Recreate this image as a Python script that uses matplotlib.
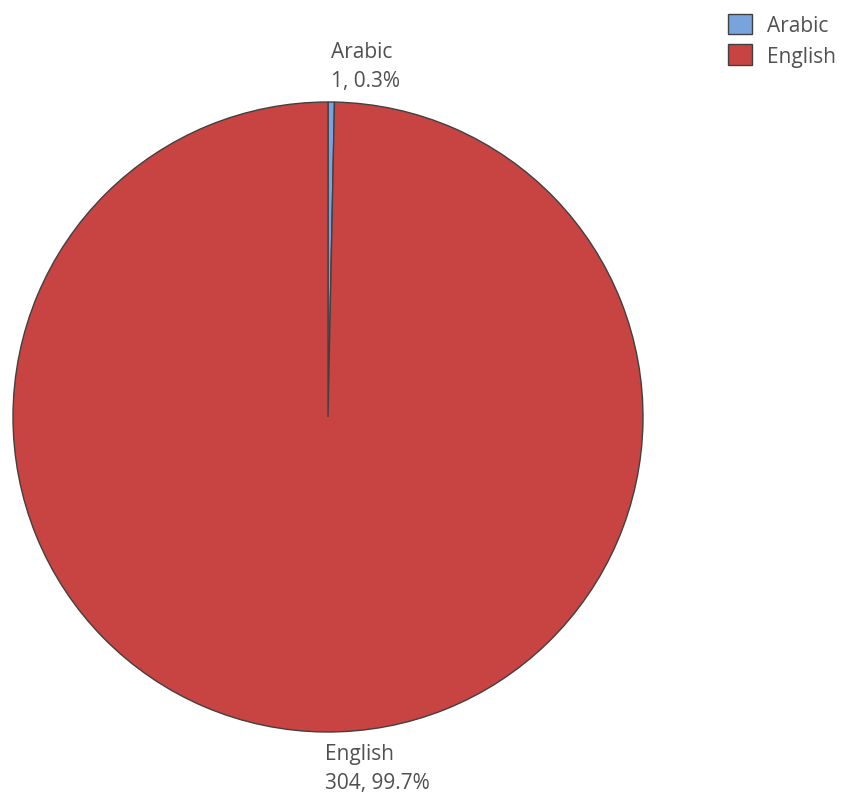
import numpy as np
import matplotlib.pyplot as plt
from matplotlib.patches import Patch

# data
languages = ['Arabic', 'English']
counts = [1, 304]
colors = ['#78A3DC', '#C84442']

plt.rcParams['font.family'] = ['Open Sans', 'DejaVu Sans']
text_color = '#505050'

fig = plt.figure(figsize=(8.51, 8.03), dpi=100)
ax = fig.add_axes([13 / 851, 70 / 803, 630 / 851, 630 / 803])

wedges, _ = ax.pie(counts, colors=colors, startangle=90, counterclock=False,
                   radius=1, wedgeprops=dict(edgecolor='#404040', linewidth=1.0))
ax.set_xlim(-1, 1)
ax.set_ylim(-1, 1)
ax.set_aspect('equal')
ax.axis('off')

# slice labels: name on first line, "count, pct" on second
total = sum(counts)
start = 90.0
for name, n in zip(languages, counts):
    sweep = n / total * 360
    mid = np.deg2rad(start - sweep / 2)
    start -= sweep
    x, y = 1.035 * np.cos(mid), 1.035 * np.sin(mid)
    va = 'bottom' if y > 0 else 'top'
    ax.text(x, y, f'{name}\n{n}, {n / total * 100:.1f}%', ha='left', va=va,
            fontsize=15, color=text_color, linespacing=1.5, clip_on=False)

handles = [Patch(facecolor=c, edgecolor='#404040', linewidth=1.0) for c in colors]
fig.legend(handles, languages, loc='upper right', bbox_to_anchor=(1.0, 1.0),
           frameon=False, fontsize=15, labelcolor=text_color,
           handlelength=1.15, handleheight=1.15, handletextpad=0.75,
           labelspacing=0.4, borderaxespad=0.3)

fig.savefig('out.png', dpi=100, facecolor='white')
